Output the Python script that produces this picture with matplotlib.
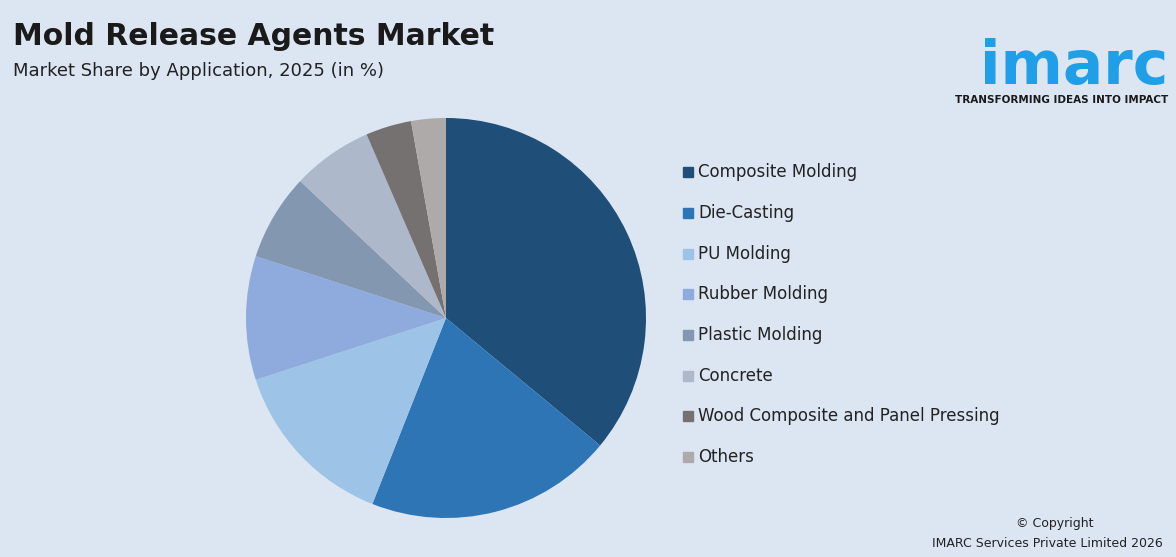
import matplotlib
matplotlib.use("Agg")
import matplotlib.pyplot as plt

categories = ["Composite Molding", "Die-Casting", "PU Molding", "Rubber Molding",
              "Plastic Molding", "Concrete", "Wood Composite and Panel Pressing", "Others"]
values = [36.0, 20.0, 14.0, 10.0, 7.0, 6.5, 3.7, 2.8]
colors = ["#1f4e79", "#2e75b6", "#9dc3e6", "#8faadc", "#8497b0", "#adb9ca", "#767171", "#aeaaaa"]

bg = "#dce6f2"
fig = plt.figure(figsize=(11.76, 5.57), dpi=100, facecolor=bg)
ax = fig.add_axes([246 / 1176, 39 / 557, 400 / 1176, 400 / 557])
ax.set_facecolor(bg)
ax.pie(values, colors=colors, startangle=90, counterclock=False)
ax.set_xlim(-1, 1)
ax.set_ylim(-1, 1)
ax.set_aspect("equal")
ax.axis("off")

fig.text(0.011, 0.935, "Mold Release Agents Market", fontsize=21.5, fontweight="bold", color="#1a1a1a", va="center")
fig.text(0.011, 0.872, "Market Share by Application, 2025 (in %)", fontsize=13, color="#222222", va="center")

ys = [172, 213, 254, 294, 335, 376, 416, 457]
for c, lab, y in zip(colors, categories, ys):
    yf = 1 - y / 557
    fig.patches.append(plt.Rectangle((683 / 1176, yf - 0.009), 0.0085, 0.018, transform=fig.transFigure, color=c))
    fig.text(698 / 1176, yf, lab, fontsize=12, color="#222222", va="center")

fig.text(0.993, 0.878, "imarc", fontsize=43, fontweight="bold", color="#1e9fe8", ha="right", va="center")
fig.text(0.993, 0.82, "TRANSFORMING IDEAS INTO IMPACT", fontsize=7.5, fontweight="bold", color="#1a1a1a", ha="right", va="center")
fig.text(1093 / 1176, 0.06, "© Copyright", fontsize=9, color="#222222", ha="right", va="center")
fig.text(1163 / 1176, 0.025, "IMARC Services Private Limited 2026", fontsize=9, color="#222222", ha="right", va="center")

fig.savefig("out.png", dpi=100, facecolor=bg)
